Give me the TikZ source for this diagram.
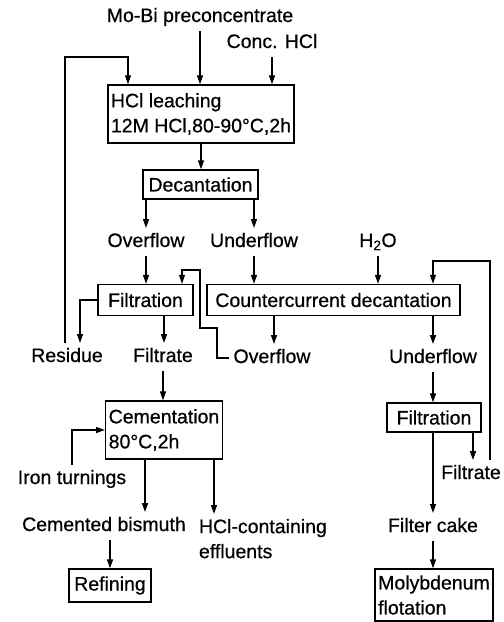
\documentclass[tikz,border=0pt]{standalone}
\usepackage{fontspec}
\setmainfont{Liberation Sans}
\newfontfamily\diafont{Liberation Sans}[FakeBold=0.6]
\usetikzlibrary{arrows.meta,calc}
\begin{document}
\begin{tikzpicture}[x=1pt,y=-1pt,
  every node/.style={font=\diafont\fontsize{19.5}{25}\selectfont},
  lbl/.style={inner sep=2pt,outer sep=3pt,text height=14pt,text depth=4pt},
  mlbl/.style={inner sep=2pt,outer sep=3pt,align=left},
  box/.style={draw,line width=1.4pt,inner sep=3pt},
  arr/.style={line width=1.4pt,-{Triangle[length=9pt,width=6pt]}},
  ln/.style={line width=1.1pt,-{Triangle[length=9pt,width=6pt]}}]
\useasboundingbox (0,0) rectangle (504,622);
% nodes
\node[lbl] (mobi) at (200,17) {Mo-Bi preconcentrate};
\node[lbl] (conc) at (272,43) {Conc. HCl};
\node[box,align=left,minimum width=182pt,minimum height=58pt] (leach) at (201,114) {HCl leaching\\12M HCl,80-90°C,2h};
\node[box,minimum width=115pt,minimum height=29pt] (decant) at (200.5,184.5) {Decantation};
\node[lbl] (ovf1) at (146,242) {Overflow};
\node[lbl] (unf1) at (254,242) {Underflow};
\node[lbl] (h2o) at (378,242) {H\textsubscript{2}O};
\node[box,minimum width=95pt,minimum height=31pt] (filt1) at (145.5,300) {Filtration};
\node[box,minimum width=253pt,minimum height=31pt] (ccd) at (333.5,300) {Countercurrent decantation};
\node[lbl] (residue) at (67,357) {Residue};
\node[lbl] (filtrate1) at (163,357) {Filtrate};
\node[lbl] (ovf2) at (272,358) {Overflow};
\node[lbl] (unf2) at (433,358) {Underflow};
\node[box,align=left,minimum width=116pt,minimum height=58pt] (cem) at (164,430) {Cementation\\80°C,2h};
\node[lbl] (iron) at (72,479) {Iron turnings};
\node[box,minimum width=94pt,minimum height=29pt] (filt2) at (434,417.5) {Filtration};
\node[lbl] (filtrate2) at (471,474) {Filtrate};
\node[lbl] (cb) at (104,526) {Cemented bismuth};
\node[mlbl,anchor=north west] (effl) at (194,514) {HCl-containing\\effluents};
\node[lbl] (fcake) at (433,527) {Filter cake};
\node[box,minimum width=82pt,minimum height=33pt] (refine) at (110,585.5) {Refining};
\node[box,align=left,minimum width=114pt,minimum height=52pt] (moly) at (434,595) {Molybdenum\\flotation};
% helper coordinates
\coordinate (r1) at (128,57);
\coordinate (r2) at (490,261);
\coordinate (r3) at (433,261);
\coordinate (x65) at (65,0);
\coordinate (x80) at (80,0);
\coordinate (x145) at (145,0);
\coordinate (x164) at (164,0);
\coordinate (x182) at (182,0);
\coordinate (x214) at (214,0);
\coordinate (x274) at (274,0);
\coordinate (x473) at (473,0);
% connectors
\draw[arr] (mobi.south) -- (mobi.south |- leach.north);
\draw[arr] (conc.south) -- (conc.south |- leach.north);
\draw[ln] (residue.north -| x65) |- (r1) -- (r1 |- leach.north);
\draw[arr] (leach.south) -- (leach.south |- decant.north);
\draw[arr] (decant.south -| ovf1) -- (ovf1.north);
\draw[arr] (decant.south -| unf1) -- (unf1.north);
\draw[arr] (ovf1.south) -- (ovf1.south |- filt1.north);
\draw[arr] (unf1.south) -- (unf1.south |- ccd.north);
\draw[arr] (h2o.south) -- (h2o.south |- ccd.north);
\draw[ln] (filtrate2.north -| r2) -- (r2) -- (r3) -- (r3 |- ccd.north);
\draw[arr] (filt1.west) -| (residue.north -| x80);
\draw[arr] (filt1.south -| x164) -- (x164 |- filtrate1.north);
\draw[ln] (ovf2.west) -| (217,328) -| (200,270) -| (filt1.north -| x182);
\draw[arr] (ccd.south -| x274) -- (x274 |- ovf2.north);
\draw[arr] (ccd.south -| unf2) -- (unf2.north);
\draw[arr] (filtrate1.south) -- (filtrate1.south |- cem.north);
\draw[arr] (iron.north) |- (cem.west);
\draw[arr] (cem.south -| x145) -- (x145 |- cb.north);
\draw[arr] (cem.south -| x214) -- (x214 |- effl.north);
\draw[arr] (cb.south -| refine) -- (refine.north);
\draw[arr] (unf2.south) -- (unf2.south |- filt2.north);
\draw[arr] (filt2.south -| x473) -- (x473 |- filtrate2.north);
\draw[arr] (filt2.south -| fcake) -- (fcake.north);
\draw[arr] (fcake.south) -- (fcake.south |- moly.north);
\end{tikzpicture}
\end{document}
